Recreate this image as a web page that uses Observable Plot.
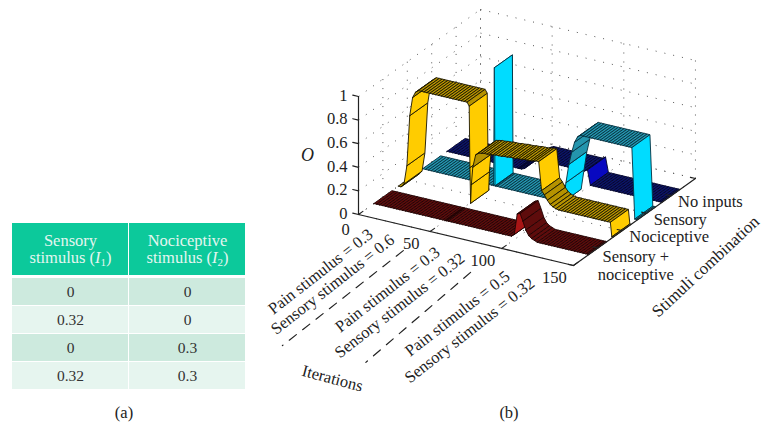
<!DOCTYPE html>
<html>
<head>
<meta charset="utf-8">
<script src="https://cdn.jsdelivr.net/npm/d3@7"></script>
<script src="https://cdn.jsdelivr.net/npm/@observablehq/plot@0.6"></script>
<style>
html,body{margin:0;padding:0;background:#fff;}
body{width:767px;height:446px;position:relative;overflow:hidden;font-family:"Liberation Serif",serif;}
.cap{position:absolute;font-size:16.5px;color:#222;transform:translateX(-50%);}
</style>
</head>
<body>
<script>
// ---------- Table (a) ----------
const tableColumns = ["Sensory\nstimulus (I1)", "Nociceptive\nstimulus (I2)"];
const tableRows = ["r1", "r2", "r3", "r4"];
const sensoryStimulus = ["0", "0.32", "0", "0.32"];
const nociceptiveStimulus = ["0", "0", "0.3", "0.3"];

// ---------- Surface (b): samples shared by the four ribbons ----------
const iterations = [
  0,2,4,6,8,10,12,14,16,18,
  20,22,24,26,28,30,32,34,36,38,
  40,42,44,46,48,49.5,50,50.5,51,52,
  54,56,58,60,62,64,66,68,70,72,
  74,76,78,80,82,84,86,88,90,92,
  94,96,98,100,102,104,106,108,110,112,
  114,116,118,120,122,124,126,128,130,132,
  134,136,138,140,142,144,146,148,149,150];
const noInputs = [
  0,0,0,0,0,0,0,0,0,0,
  0,0,0,0,0,0,0,0,0,0,
  0,0,0,0,0,0,0,0,0,0,
  .01,.04,.08,.1,.11,.11,.11,.11,.11,.11,
  .11,.11,.11,.11,.11,.11,.11,.11,.11,.11,
  .11,.11,.125,0,0,0,0,0,0,0,
  0,0,0,0,0,0,0,0,0,0,
  0,0,0,0,0,0,0,0,0,0];
const sensory = [
  0,0,0,0,0,0,0,0,0,0,
  0,0,0,0,0,0,0,0,0,0,
  0,0,0,0,0,0,1,0,0,0,
  0,0,0,0,0,0,0,0,0,0,
  0,0,0,0,0,0,0,0,0,0,
  0,0,0,.17,.33,.44,.53,.58,.6,.6,
  .6,.6,.6,.6,.6,.6,.6,.6,.6,.6,
  .6,.6,.6,.6,.6,.6,.6,0,0,0];
const nociceptive = [
  0,0,.03,.19,.62,.78,.83,.85,.85,.85,
  .85,.85,.85,.85,.85,.85,.85,.85,.85,.85,
  .85,.85,.85,.85,.85,.82,.3,0,.16,.31,
  .42,.44,.445,.45,.45,.455,.455,.46,.46,.46,
  .465,.465,.47,.47,.47,.475,.475,.48,.48,.48,
  .485,.49,.49,.25,.22,.18,.15,.135,.125,.12,
  .12,.12,.12,.12,.12,.12,.12,.12,.12,.12,
  .12,.12,.12,.12,.12,.12,.12,.12,0,0];
const sensoryNociceptive = [
  0,0,0,0,0,0,0,0,0,0,
  0,0,0,0,0,0,0,0,0,0,
  0,0,0,0,0,0,0,0,0,0,
  0,0,0,0,0,0,0,0,0,0,
  0,0,0,0,0,0,0,0,0,0,
  0,0,.02,.2,.21,.15,.08,.04,.02,.01,
  0,0,0,0,0,0,0,0,0,0,
  0,0,0,0,0,0,0,0,0,0];

// ---------- Axes ----------
const iterationTicks = [0, 50, 100, 150];
const outputTicks = [0, 0.2, 0.4, 0.6, 0.8, 1];
const outputTickLabels = ["0", "0.2", "0.4", "0.6", "0.8", "1"];
const combinationGrid = [0, 1, 2, 3, 4, 5];
const combinationLabels = ["Nociceptive", "Sensory", "No inputs"];
const combinationLabelAt = [2, 3, 4];

// ---------- Stimulus segment annotations, in iteration/combination units ----------
const segmentLabels = ["Pain stimulus = 0.3", "Sensory stimulus = 0.6", "Pain stimulus = 0.3",
  "Sensory stimulus = 0.32", "Pain stimulus = 0.5", "Sensory stimulus = 0.32"];
const segmentIter = [22, 37.8, 70.3, 88.3, 124.5, 143.3];
const segmentComb = [-2.85, -3.28, -2.94, -3.5, -3.26, -3.86];
const dividerIter = [[50, 56.4], [101.2, 112.4]];
const dividerComb = [[-1.1, -6.43], [-1.35, -6.3]];

// ---------- View of the 3-D box on the page ----------
const view = {ox: 358, oy: 214, ix: 1.433, iy: 0.34, cx: 24.4, cy: -17.4, oz: 118};
const px = d => view.ox + view.ix * d.i + view.cx * d.c;
const py = d => view.oy + view.iy * d.i + view.cy * d.c - view.oz * (d.o || 0);

const ribbonHalf = 0.37;
const ribbons = [
  {c: 4, values: noInputs, steep: "#0808c0", flat: "#0c1468", edge: "#02042a"},
  {c: 3, values: sensory, steep: "#00dcff", flat: "#2495ad", edge: "#053040"},
  {c: 2, values: nociceptive, steep: "#ffcc00", flat: "#b59200", edge: "#1a1500"},
  {c: 1, values: sensoryNociceptive, steep: "#a81515", flat: "#5e0c0c", edge: "#200303"}
];

const quads = [];
ribbons.forEach(r => {
  for (let k = 0; k + 1 < iterations.length; k++) {
    const i0 = iterations[k], i1 = iterations[k + 1], o0 = r.values[k], o1 = r.values[k + 1];
    const id = r.c + "-" + k;
    const fill = Math.abs(o1 - o0) / (i1 - i0) >= 0.0595 ? r.steep : r.flat;
    [[i0, -1, o0], [i1, -1, o1], [i1, 1, o1], [i0, 1, o0], [i0, -1, o0]].forEach(([i, s, o]) =>
      quads.push({id, i, c: r.c + s * ribbonHalf, o, fill, edge: r.edge}));
  }
});

const grid = [];
const addLine = (arr, id, a, b) => { arr.push({id, ...a}, {id, ...b}); };
iterationTicks.forEach(i => {
  addLine(grid, "fi" + i, {i, c: 0, o: 0}, {i, c: 5, o: 0});
  addLine(grid, "bi" + i, {i, c: 5, o: 0}, {i, c: 5, o: 1});
});
combinationGrid.forEach(c => {
  addLine(grid, "fc" + c, {i: 0, c, o: 0}, {i: 150, c, o: 0});
  addLine(grid, "lc" + c, {i: 0, c, o: 0}, {i: 0, c, o: 1});
});
outputTicks.forEach(o => {
  addLine(grid, "lo" + o, {i: 0, c: 0, o}, {i: 0, c: 5, o});
  addLine(grid, "bo" + o, {i: 0, c: 5, o}, {i: 150, c: 5, o});
});

const axes = [];
addLine(axes, "x", {i: 0, c: 0, o: 0}, {i: 150, c: 0, o: 0});
addLine(axes, "y", {i: 150, c: 0, o: 0}, {i: 150, c: 5, o: 0});
addLine(axes, "z", {i: 0, c: 0, o: 0}, {i: 0, c: 0, o: 1});
iterationTicks.forEach(i => addLine(axes, "tx" + i, {i, c: 0, o: 0}, {i, c: 0.18, o: 0}));
combinationGrid.forEach(c => addLine(axes, "ty" + c, {i: 150, c, o: 0}, {i: 146.5, c, o: 0}));
outputTicks.forEach(o => addLine(axes, "tz" + o, {i: 0, c: 0, o}, {i: -4, c: 0, o}));

const dividers = [];
dividerIter.forEach((pair, n) => {
  dividers.push({id: n, i: pair[0], c: dividerComb[n][0]}, {id: n, i: pair[1], c: dividerComb[n][1]});
});

const font = "Liberation Serif";
const ink = "#222";
const main = Plot.plot({
  width: 767, height: 446, margin: 0,
  x: {domain: [0, 767], range: [0, 767], axis: null},
  y: {domain: [0, 446], range: [0, 446], axis: null},
  color: {type: "identity"},
  style: {position: "absolute", left: 0, top: 0, fontFamily: font, background: "none"},
  marks: [
    Plot.line(grid, {x: px, y: py, z: "id", stroke: "#555", strokeWidth: 1, strokeDasharray: "1 8", strokeLinecap: "butt"}),
    Plot.line(quads, {x: px, y: py, z: "id", fill: "fill", stroke: "edge", strokeWidth: 0.9, strokeLinejoin: "round"}),
    Plot.line(axes, {x: px, y: py, z: "id", stroke: ink, strokeWidth: 1.2}),
    Plot.line(dividers, {x: px, y: py, z: "id", stroke: ink, strokeWidth: 1.2, strokeDasharray: "9 8"}),
    Plot.text(iterationTicks.slice(1), {x: d => px({i: d, c: 0}), y: d => py({i: d, c: 0}), text: d => String(d),
      dx: -19, dy: 12, fontSize: 16.5, fill: ink}),
    Plot.text(iterationTicks.slice(0, 1), {x: d => px({i: d, c: 0}), y: d => py({i: d, c: 0}), text: d => String(d),
      dx: -13, dy: 15, fontSize: 16.5, fill: ink}),
    Plot.text(outputTicks, {x: d => px({i: 0, c: 0}), y: d => py({i: 0, c: 0, o: d}), text: (d, n) => outputTickLabels[n],
      dx: -11, dy: -1, textAnchor: "end", fontSize: 16.5, fill: ink}),
    Plot.text(combinationLabels, {x: (d, n) => px({i: 150, c: combinationLabelAt[n]}), y: (d, n) => py({i: 150, c: combinationLabelAt[n]}),
      text: d => d, dx: 7, dy: 6, textAnchor: "start", fontSize: 16.5, fill: ink}),
    Plot.text(["Sensory +\nnociceptive"], {x: () => px({i: 150, c: 1}), y: () => py({i: 150, c: 1}), text: d => d,
      dx: 38, dy: 17, lineHeight: 1.1, fontSize: 16.5, fill: ink}),
    Plot.text(segmentLabels, {x: (d, n) => px({i: segmentIter[n], c: segmentComb[n]}), y: (d, n) => py({i: segmentIter[n], c: segmentComb[n]}),
      text: d => d, rotate: -38, fontSize: 16.5, fill: ink}),
    Plot.text(["Iterations"], {x: () => px({i: 106.8, c: -7.34}), y: () => py({i: 106.8, c: -7.34}), text: d => d,
      rotate: 15, fontSize: 16.5, fill: ink}),
    Plot.text(["Stimuli combination"], {x: () => px({i: 219.9, c: 1.31}), y: () => py({i: 219.9, c: 1.31}), text: d => d,
      rotate: -43, fontSize: 17, fill: ink}),
    Plot.text(["O"], {x: () => px({i: 0, c: 0}), y: () => py({i: 0, c: 0, o: 0.5}), text: d => d,
      dx: -51, fontSize: 18, fontStyle: "italic", fill: ink})
  ]
});
document.body.appendChild(main);

// Table header
const header = Plot.plot({
  width: 235, height: 52, margin: 0,
  x: {domain: tableColumns, range: [0, 235], padding: 0.006, axis: null},
  y: {domain: ["h"], range: [0, 52], padding: 0, axis: null},
  color: {type: "identity"},
  style: {position: "absolute", left: "10.5px", top: "223px", fontFamily: font, background: "none"},
  marks: [
    Plot.cell(tableColumns, {x: d => d, y: () => "h", fill: () => "#0cc99b"}),
    Plot.text(tableColumns, {x: d => d, y: () => "h", text: d => d, fontSize: 16.5, lineHeight: 1.02, fill: "#e4f6f0"})
  ]
});
// Italic variable and subscript as sibling spans of the second header line
header.querySelectorAll("text tspan").forEach(t => {
  const m = t.textContent.match(/^(.*\()I(\d)\)$/);
  if (!m) return;
  t.textContent = m[1];
  const ns = "http://www.w3.org/2000/svg";
  const parts = [["I", {"font-style": "italic"}], [m[2], {dy: "3", "font-size": "11"}], [")", {dy: "-3"}]];
  let prev = t;
  parts.forEach(([s, attrs]) => {
    const span = document.createElementNS(ns, "tspan");
    span.textContent = s;
    Object.entries(attrs).forEach(([k, v]) => span.setAttribute(k, v));
    prev.after(span);
    prev = span;
  });
});
document.body.appendChild(header);

// Table body
const bodyCells = tableRows.flatMap((r, n) => [
  {col: tableColumns[0], row: r, value: sensoryStimulus[n], fill: n % 2 ? "#e6f5ef" : "#cdeade"},
  {col: tableColumns[1], row: r, value: nociceptiveStimulus[n], fill: n % 2 ? "#e6f5ef" : "#cdeade"}
]);
const body = Plot.plot({
  width: 235, height: 114, margin: 0,
  x: {domain: tableColumns, range: [0, 235], padding: 0.006, axis: null},
  y: {domain: tableRows, range: [0, 114], padding: 0.04, axis: null},
  color: {type: "identity"},
  style: {position: "absolute", left: "10.5px", top: "275.5px", fontFamily: font, background: "none"},
  marks: [
    Plot.cell(bodyCells, {x: "col", y: "row", fill: "fill"}),
    Plot.text(bodyCells, {x: "col", y: "row", text: "value", fontSize: 15.5, fill: "#333"})
  ]
});
document.body.appendChild(body);

for (const [t, l] of [["(a)", 124], ["(b)", 509]]) {
  const c = document.createElement("div");
  c.className = "cap"; c.textContent = t;
  c.style.left = l + "px"; c.style.top = "403px";
  document.body.appendChild(c);
}
</script>
</body>
</html>
